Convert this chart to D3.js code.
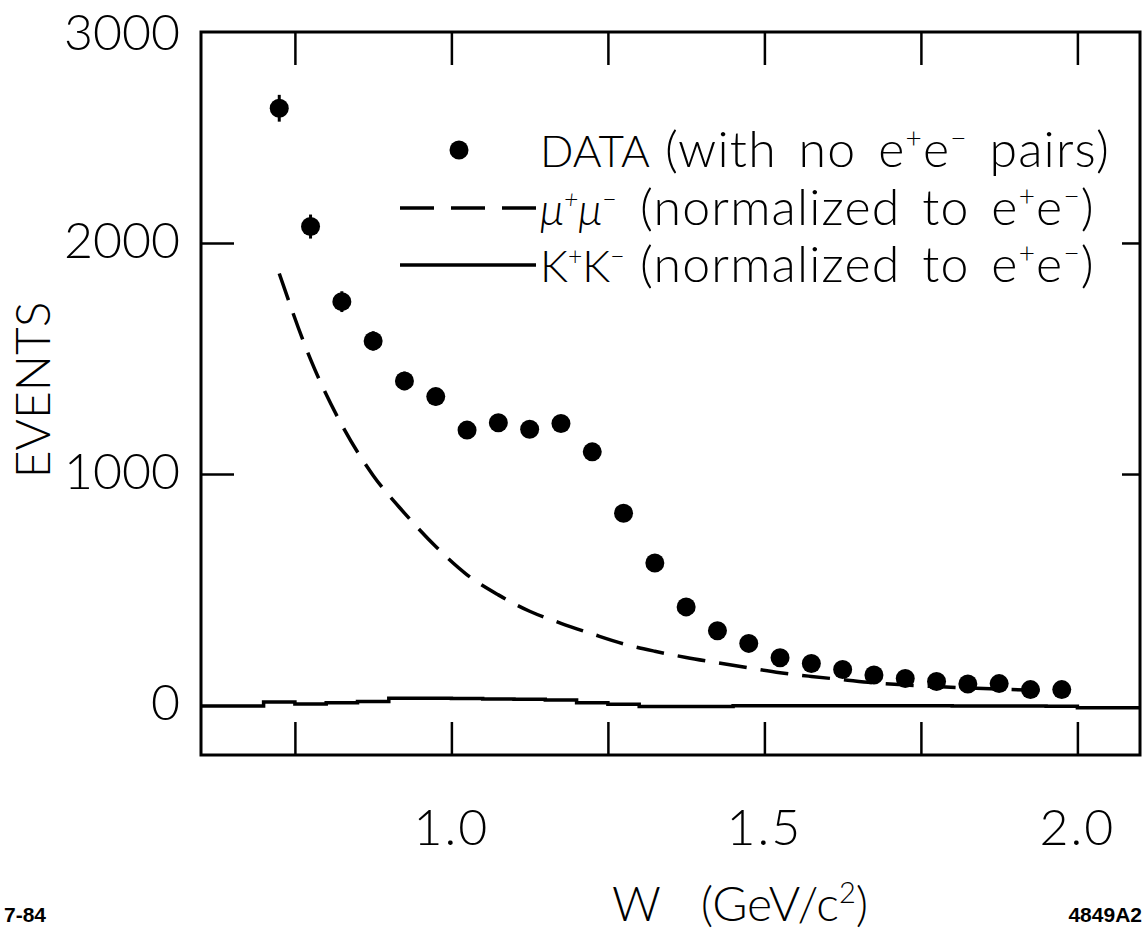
<!DOCTYPE html>
<html>
<head>
<meta charset="utf-8">
<script src="https://cdn.jsdelivr.net/npm/d3@7"></script>
<style>
  body { margin: 0; background: #fff; }
  svg { display: block; }
  .lbl { font-family: Lato, "Open Sans", sans-serif; font-weight: 300; fill: #000; }
  .tag { font-family: "Liberation Sans Narrow", "Liberation Sans", sans-serif; font-weight: bold; fill: #000; }
</style>
</head>
<body>
<div id="chart"></div>
<script>
// bin centres (GeV/c^2) of the measured points
const wCenters = [0.725, 0.775, 0.825, 0.875, 0.925, 0.975, 1.025, 1.075, 1.125, 1.175,
  1.225, 1.275, 1.325, 1.375, 1.425, 1.475, 1.525, 1.575, 1.625, 1.675,
  1.725, 1.775, 1.825, 1.875, 1.925, 1.975];
const dataEvents = [2583, 2071, 1746, 1576, 1403, 1335, 1190, 1222, 1194, 1219,
  1096, 830, 615, 425, 322, 267, 205, 180, 154, 130,
  115, 102, 91, 93, 67, 67];
const dataErrors = [58, 52, 45, 42, 40, 38, 36, 36, 36, 36,
  34, 30, 26, 22, 19, 17, 15, 14, 13, 12,
  11, 10, 10, 10, 9, 9];
const muMuEvents = [1868, 1496, 1212, 994, 831, 686, 564, 477, 406, 354,
  308, 265, 233, 206, 183, 161, 140, 124, 110, 96,
  87, 80, 74, 69, 65, 62];

// K+K- histogram, bin low edges and contents
const kkEdges = [0.60, 0.65, 0.70, 0.75, 0.80, 0.85, 0.90, 0.95, 1.00, 1.05,
  1.10, 1.15, 1.20, 1.25, 1.30, 1.35, 1.40, 1.45, 1.50, 1.55,
  1.60, 1.65, 1.70, 1.75, 1.80, 1.85, 1.90, 1.95, 2.00, 2.05, 2.10];
const kkEvents = [-4, -4, 13, 5, 10, 16, 30, 30, 28, 26,
  25, 22, 10, 4, -6, -6, -6, -3, -3, -3,
  -3, -3, -3, -3, -4, -4, -4, -5, -12, -12, -12];

const xTicks = [0.75, 1.0, 1.25, 1.5, 1.75, 2.0];
const xTickLabels = [1.0, 1.5, 2.0];
const yTicks = [1000, 2000];
const yTickLabels = [0, 1000, 2000, 3000];

const legendRows = [
  { name: "DATA", note: "(with no e^+e^− pairs)", noteX: 665 },
  { name: "μ^+μ^−", note: "(normalized to e^+e^−)", noteX: 640 },
  { name: "K^+K^−", note: "(normalized to e^+e^−)", noteX: 640 }
];

const width = 1146;
const height = 936;

const svg = d3.select("#chart")
  .append("svg")
  .attr("width", width)
  .attr("height", height);

const x = d3.scaleLinear().domain([0.6, 2.1]).range([201, 1140]);
const y = d3.scaleLinear().domain([-216, 2913]).range([755, 32]);

const [x0, x1] = x.range();
const [yb, yt] = y.range();

// frame
svg.append("rect")
  .attr("x", x0).attr("y", yt)
  .attr("width", x1 - x0).attr("height", yb - yt)
  .attr("fill", "none")
  .attr("stroke", "#000")
  .attr("stroke-width", 3);

// inward ticks on all four sides
function tickAxis(axis, tx, ty) {
  const g = svg.append("g")
    .attr("transform", `translate(${tx},${ty})`)
    .call(axis);
  g.select(".domain").remove();
  g.selectAll(".tick line").attr("stroke", "#000").attr("stroke-width", 2.5);
  g.selectAll(".tick text").remove();
}
tickAxis(d3.axisBottom(x).tickValues(xTicks).tickSize(-33), 0, yb);
tickAxis(d3.axisTop(x).tickValues(xTicks).tickSize(-33), 0, yt);
tickAxis(d3.axisLeft(y).tickValues(yTicks).tickSize(-33), x0, 0);
tickAxis(d3.axisRight(y).tickValues(yTicks).tickSize(-18), x1, 0);

// tick labels
svg.append("g").selectAll("text")
  .data(xTickLabels)
  .join("text")
  .attr("class", "lbl")
  .attr("x", d => x(d))
  .attr("y", 845)
  .attr("text-anchor", "middle")
  .attr("font-size", 50)
  .attr("letter-spacing", 2)
  .text(d => d.toFixed(1));

// the 3000 label sits just above the frame, kept inside the page
svg.append("g").selectAll("text")
  .data(yTickLabels)
  .join("text")
  .attr("class", "lbl")
  .attr("x", 180)
  .attr("y", d => Math.max(y(d) - 3, 32) + 18)
  .attr("text-anchor", "end")
  .attr("font-size", 50)
  .text(d => d);

// axis titles
svg.append("text")
  .attr("class", "lbl")
  .attr("transform", "translate(50,390) rotate(-90)")
  .attr("text-anchor", "middle")
  .attr("font-size", 48)
  .text("EVENTS");

const xTitle = svg.append("text")
  .attr("class", "lbl")
  .attr("x", 612)
  .attr("y", 921)
  .attr("font-size", 48);
xTitle.append("tspan").text("W");
xTitle.append("tspan").attr("dx", 40).text("(GeV/c");
xTitle.append("tspan").attr("font-size", 29).attr("dy", -18).text("2");
xTitle.append("tspan").attr("dy", 18).text(")");

svg.append("text").attr("class", "tag")
  .attr("x", 4).attr("y", 922).attr("font-size", 21).text("7-84");
svg.append("text").attr("class", "tag")
  .attr("x", 1142).attr("y", 922).attr("text-anchor", "end").attr("font-size", 21).text("4849A2");

// K+K- histogram
svg.append("path")
  .datum(kkEdges.map((w, i) => [w, kkEvents[i]]))
  .attr("fill", "none")
  .attr("stroke", "#000")
  .attr("stroke-width", 3.5)
  .attr("d", d3.line().x(d => x(d[0])).y(d => y(d[1])).curve(d3.curveStepAfter));

// mu+mu- curve
svg.append("path")
  .datum(wCenters.map((w, i) => [w, muMuEvents[i]]))
  .attr("fill", "none")
  .attr("stroke", "#000")
  .attr("stroke-width", 3.5)
  .attr("stroke-dasharray", "28,14")
  .attr("d", d3.line().x(d => x(d[0])).y(d => y(d[1])).curve(d3.curveMonotoneX));

// data points with error bars
const pts = wCenters.map((w, i) => ({ w: w, v: dataEvents[i], e: dataErrors[i] }));

svg.append("g").selectAll("line")
  .data(pts)
  .join("line")
  .attr("x1", d => x(d.w)).attr("x2", d => x(d.w))
  .attr("y1", d => y(d.v - d.e)).attr("y2", d => y(d.v + d.e))
  .attr("stroke", "#000")
  .attr("stroke-width", 3);

svg.append("g").selectAll("circle")
  .data(pts)
  .join("circle")
  .attr("cx", d => x(d.w))
  .attr("cy", d => y(d.v))
  .attr("r", 9.5)
  .attr("fill", "#000");

// text with ^x superscripts
function richText(g, str, px, py, size) {
  const t = g.append("text").attr("class", "lbl").attr("x", px).attr("y", py).attr("font-size", size);
  const shift = size * 0.38;
  let raised = false;
  str.split(/(\^.)/).filter(s => s.length).forEach(p => {
    if (p[0] === "^") {
      t.append("tspan").attr("font-size", size * 0.56).attr("dy", raised ? 0 : -shift).text(p[1]);
      raised = true;
    } else {
      t.append("tspan").attr("dy", raised ? shift : 0).text(p);
      raised = false;
    }
  });
  return t;
}

// legend
const legend = svg.append("g");
const rowY = [150, 208, 265];
legend.append("circle").attr("cx", 459).attr("cy", rowY[0]).attr("r", 9.5).attr("fill", "#000");
legend.append("line").attr("x1", 400).attr("x2", 536).attr("y1", rowY[1]).attr("y2", rowY[1])
  .attr("stroke", "#000").attr("stroke-width", 3.5).attr("stroke-dasharray", "34,17");
legend.append("line").attr("x1", 400).attr("x2", 536).attr("y1", rowY[2]).attr("y2", rowY[2])
  .attr("stroke", "#000").attr("stroke-width", 3.5);

legendRows.forEach((r, i) => {
  const base = rowY[i] + 17;
  const n = richText(legend, r.name, 540, base, 44);
  if (i === 1) n.attr("font-style", "italic");
  richText(legend, r.note, r.noteX, base, 50)
    .attr("letter-spacing", 1.2)
    .attr("word-spacing", 7);
});
</script>
</body>
</html>
